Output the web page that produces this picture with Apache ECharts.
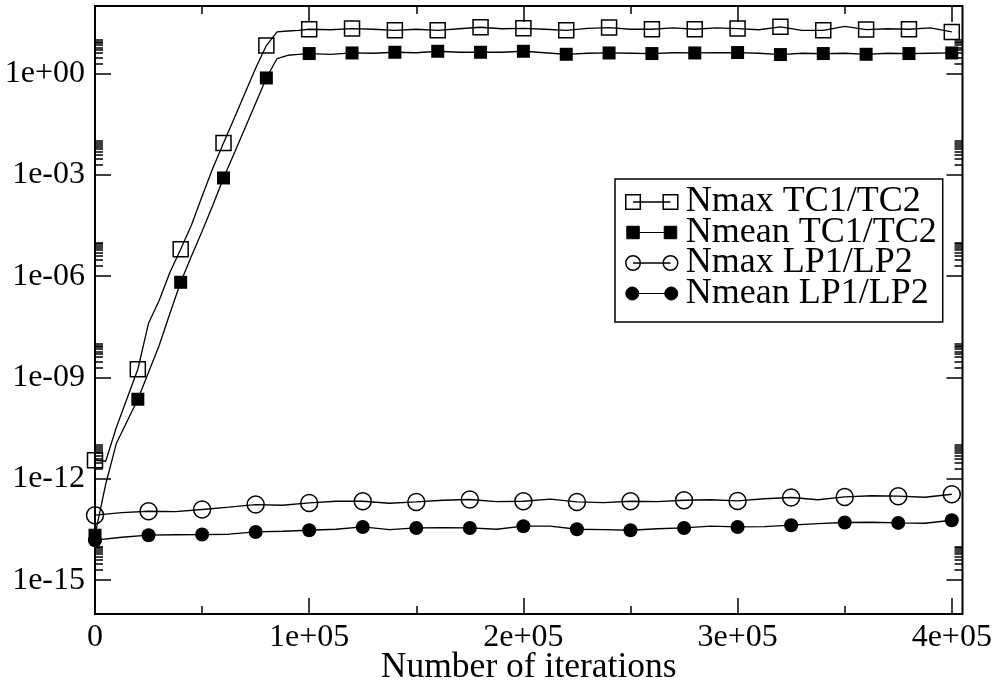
<!DOCTYPE html>
<html>
<head>
<meta charset="utf-8">
<script src="https://cdn.jsdelivr.net/npm/echarts@6/dist/echarts.min.js"></script>
<style>
html,body{margin:0;padding:0;background:#fff;}
#c{width:995px;height:684px;}
</style>
</head>
<body>
<div id="c"></div>
<script>
// ---------- data ----------
const tcX = [0, 5000, 10000, 15000, 20000, 25000, 30000, 35000, 40000, 45000, 50000,
  55000, 60000, 65000, 70000, 75000, 80000, 85000, 90000, 95000, 100000,
  110000, 120000, 130000, 140000, 150000, 160000, 170000, 180000, 190000, 200000,
  210000, 220000, 230000, 240000, 250000, 260000, 270000, 280000, 290000, 300000,
  310000, 320000, 330000, 340000, 350000, 360000, 370000, 380000, 390000, 400000];
const nmaxTC = [3.56e-12, 3.33e-12, 3.38e-11, 2.44e-10, 1.76e-9, 4.06e-8, 1.95e-7, 1.31e-6, 6.29e-6, 3.23e-5, 2.33e-4,
  1.57e-3, 8.83e-3, 4.75e-2, 0.261, 1.43, 6.74, 17.1, 18.2, 19.1, 20.5,
  19.8, 21.5, 20.5, 19.1, 20.5, 19.1, 21.2, 23.5, 21.2, 21.9,
  20.5, 19.1, 21.9, 23.0, 20.5, 20.5, 22.4, 20.5, 22.4, 21.5,
  19.8, 24.1, 19.1, 19.1, 25.0, 20.1, 21.2, 20.5, 22.4, 17.1];
const nmeanTC = [2.15e-14, 6.95e-13, 1.14e-11, 5.09e-11, 2.28e-10, 1.44e-9, 9.04e-9, 8.0e-8, 6.61e-7, 3.9e-6, 2.14e-5,
  1.26e-4, 8.11e-4, 4.37e-3, 2.41e-2, 0.132, 0.741, 2.78, 3.48, 3.72, 3.91,
  3.72, 4.07, 3.99, 4.27, 4.13, 4.57, 4.27, 4.27, 4.27, 4.57,
  4.13, 3.72, 3.99, 4.07, 3.99, 3.91, 4.13, 4.07, 4.13, 4.19,
  3.99, 3.65, 3.99, 3.91, 3.99, 3.72, 3.99, 3.91, 3.99, 4.07];
const lpX = [0, 12500, 25000, 37500, 50000, 62500, 75000, 87500, 100000, 112500, 125000,
  137500, 150000, 162500, 175000, 187500, 200000, 212500, 225000, 237500, 250000,
  262500, 275000, 287500, 300000, 312500, 325000, 337500, 350000, 362500, 375000, 387500, 400000];
const nmaxLP = [8.4e-14, 1.0e-13, 1.10e-13, 1.07e-13, 1.24e-13, 1.45e-13, 1.74e-13, 1.66e-13, 1.94e-13, 2.18e-13, 2.18e-13,
  1.90e-13, 2.08e-13, 2.33e-13, 2.45e-13, 2.11e-13, 2.18e-13, 2.50e-13, 2.08e-13, 1.97e-13, 2.18e-13,
  2.11e-13, 2.33e-13, 2.41e-13, 2.22e-13, 2.58e-13, 2.81e-13, 2.41e-13, 2.92e-13, 3.17e-13, 3.07e-13, 2.86e-13, 3.51e-13];
const nmeanLP = [1.53e-14, 1.87e-14, 2.15e-14, 2.22e-14, 2.25e-14, 2.30e-14, 2.69e-14, 2.82e-14, 3.02e-14, 3.23e-14, 3.78e-14,
  3.13e-14, 3.53e-14, 3.58e-14, 3.53e-14, 3.23e-14, 3.97e-14, 3.97e-14, 3.23e-14, 3.13e-14, 3.02e-14,
  3.34e-14, 3.53e-14, 3.97e-14, 3.78e-14, 3.84e-14, 4.25e-14, 4.71e-14, 5.11e-14, 5.21e-14, 4.97e-14, 4.86e-14, 5.97e-14];
const seriesNames = ['Nmax TC1/TC2', 'Nmean TC1/TC2', 'Nmax LP1/LP2', 'Nmean LP1/LP2'];

const xTickValues = [0, 100000, 200000, 300000, 400000];
const xTickLabels = ['0', '1e+05', '2e+05', '3e+05', '4e+05'];
const xMinorTickValues = [50000, 150000, 250000, 350000];
const yTickValues = [1e-15, 1e-12, 1e-9, 1e-6, 1e-3, 1];
const yTickLabels = ['1e-15', '1e-12', '1e-09', '1e-06', '1e-03', '1e+00'];
const yMinorFactors = [2, 3, 4, 5, 6, 7, 8, 9, 10];

// ---------- chart ----------
const FONT = '"Liberation Serif", "Times New Roman", serif';
const yMinorTickValues = [];
yTickValues.forEach(m => yMinorFactors.forEach(k => yMinorTickValues.push(m * k)));

function pairs(xs, ys) { return xs.map((x, i) => [x, ys[i]]); }
function yFmt(v) {
  const i = yTickValues.findIndex(t => Math.abs(Math.log10(t) - Math.log10(v)) < 0.01);
  return i >= 0 ? yTickLabels[i] : '';
}
function xFmt(v) {
  const i = xTickValues.findIndex(t => Math.abs(t - v) < 1);
  return i >= 0 ? xTickLabels[i] : '';
}

const tickStyle = { color: '#000', width: 1.5 };
function yAx(pos, len, vals, labels) {
  return {
    type: 'log', logBase: 10, min: 1e-16, max: 1e2, position: pos,
    splitLine: { show: false }, minorTick: { show: false }, minorSplitLine: { show: false },
    axisLine: { show: false, onZero: false },
    axisTick: { show: true, inside: true, length: len, customValues: vals, lineStyle: tickStyle },
    axisLabel: labels ? { show: true, customValues: yTickValues, formatter: yFmt, fontFamily: FONT, fontSize: 32, color: '#000', margin: 10 } : { show: false }
  };
}
function xAx(pos, len, vals, labels) {
  const a = {
    type: 'value', min: 0, max: 405000, position: pos,
    splitLine: { show: false }, minorTick: { show: false }, minorSplitLine: { show: false },
    axisLine: { show: false, onZero: false },
    axisTick: { show: true, inside: true, length: len, customValues: vals, lineStyle: tickStyle },
    axisLabel: labels ? { show: true, customValues: xTickValues, formatter: xFmt, fontFamily: FONT, fontSize: 32, color: '#000', margin: 8 } : { show: false }
  };
  if (labels) {
    a.name = 'Number of iterations';
    a.nameLocation = 'middle';
    a.nameGap = 36;
    a.nameMoveOverlap = false;
    a.nameTextStyle = { fontFamily: FONT, fontSize: 35.5, color: '#000' };
  }
  return a;
}

const lineSt = { color: '#000', width: 1.3 };
function mkSeries(name, xs, ys, step, symbol, size, open) {
  return {
    name: name, type: 'line', xAxisIndex: 0, yAxisIndex: 0,
    data: pairs(xs, ys),
    showAllSymbol: true, symbol: symbol,
    symbolSize: (v) => (v[0] % step === 0 ? size : 0),
    lineStyle: lineSt,
    itemStyle: open ? { color: 'transparent', borderColor: '#000', borderWidth: 1.5 } : { color: '#000', borderColor: '#000', borderWidth: 0 },
    emphasis: { disabled: true },
    animation: false, z: 3
  };
}

const sqOpen = 'path://M1,1H15V15H1Z M8,8H44 M37,1H51V15H37Z';
const sqFill = 'path://M2,2H14V14H2Z M8,8H44 M38,2H50V14H38Z M1,1 M51,15';
const ciOpen = 'path://M1,8A7,7 0 1,1 15,8A7,7 0 1,1 1,8Z M8,8H44 M37,8A7,7 0 1,1 51,8A7,7 0 1,1 37,8Z';
const ciFill = 'path://M2,8A6,6 0 1,1 14,8A6,6 0 1,1 2,8Z M8,8H44 M38,8A6,6 0 1,1 50,8A6,6 0 1,1 38,8Z';
const openSt = { color: 'transparent', borderColor: '#000', borderWidth: 1.5 };
const fillSt = { color: '#000', borderColor: '#000', borderWidth: 1 };

const option = {
  animation: false,
  backgroundColor: '#fff',
  grid: { left: 95, right: 32.5, top: 6, bottom: 70, show: true, borderColor: '#000', borderWidth: 2, backgroundColor: 'transparent', containLabel: false, outerBoundsMode: 'none' },
  xAxis: [
    xAx('bottom', 16, xTickValues, true),
    xAx('bottom', 8, xMinorTickValues, false),
    xAx('top', 16, xTickValues, false),
    xAx('top', 8, xMinorTickValues, false)
  ],
  yAxis: [
    yAx('left', 16, yTickValues, true),
    yAx('left', 8, yMinorTickValues, false),
    yAx('right', 16, yTickValues, false),
    yAx('right', 8, yMinorTickValues, false)
  ],
  legend: {
    orient: 'vertical', left: 615, top: 179,
    backgroundColor: '#fff', borderColor: '#000', borderWidth: 1.5,
    padding: [5, 6, 10.5, 10], itemGap: -5.5, itemWidth: 52, itemHeight: 15,
    selectedMode: false,
    textStyle: { fontFamily: FONT, fontSize: 36, color: '#000', padding: [0, 0, 0, 3] },
    data: [
      { name: seriesNames[0], icon: sqOpen, itemStyle: openSt },
      { name: seriesNames[1], icon: sqFill, itemStyle: fillSt },
      { name: seriesNames[2], icon: ciOpen, itemStyle: openSt },
      { name: seriesNames[3], icon: ciFill, itemStyle: fillSt }
    ]
  },
  series: [
    mkSeries(seriesNames[0], tcX, nmaxTC, 20000, 'rect', 15, true),
    mkSeries(seriesNames[1], tcX, nmeanTC, 20000, 'rect', 13, false),
    mkSeries(seriesNames[2], lpX, nmaxLP, 25000, 'circle', 17, true),
    mkSeries(seriesNames[3], lpX, nmeanLP, 25000, 'circle', 14, false)
  ]
};
const chart = echarts.init(document.getElementById('c'));
chart.setOption(option);
</script>
</body>
</html>
